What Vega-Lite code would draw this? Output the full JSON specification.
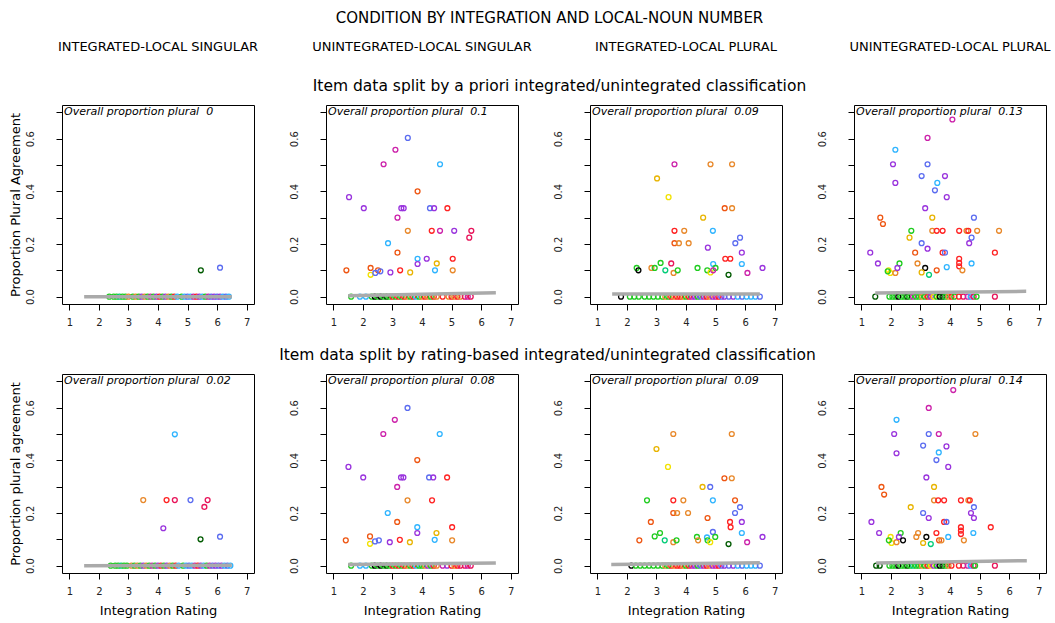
{
"$schema":"https://vega.github.io/schema/vega-lite/v6.json",
"padding":{"left":8,"top":11,"right":0,"bottom":0},
"background":"white",
"config":{"font":"DejaVu Sans","view":{"stroke":"#000","strokeWidth":1},
"axis":{"domain":false,"grid":false,"tickSize":6,"tickColor":"#000","labelFontSize":10,"labelColor":"#222","titleFontWeight":"normal","titleFontSize":13,"titleColor":"#000"},
"range":{"category":["#1fcc1f","#00cc77","#005a00","#000000","#ff2222","#e8145a","#ee5511","#e8882a","#e8b400","#f2e200","#cc22aa","#9933dd","#5b6cf0","#2fb4ff"]},
"title":{"fontWeight":"normal","color":"#000","font":"DejaVu Sans"}},
"title":{"text":"CONDITION BY INTEGRATION AND LOCAL-NOUN NUMBER","fontSize":15,"anchor":"middle","offset":9,"dx":20},
"datasets":{
"hdr":[{"k":1,"label":"INTEGRATED-LOCAL SINGULAR"},{"k":2,"label":"UNINTEGRATED-LOCAL SINGULAR"},{"k":3,"label":"INTEGRATED-LOCAL PLURAL"},{"k":4,"label":"UNINTEGRATED-LOCAL PLURAL"}],
"lab":[{"r":"A","k":1,"label":"Overall proportion plural\u00a0 0"},{"r":"A","k":2,"label":"Overall proportion plural\u00a0 0.1"},{"r":"A","k":3,"label":"Overall proportion plural\u00a0 0.09"},{"r":"A","k":4,"label":"Overall proportion plural\u00a0 0.13"},{"r":"B","k":1,"label":"Overall proportion plural\u00a0 0.02"},{"r":"B","k":2,"label":"Overall proportion plural\u00a0 0.08"},{"r":"B","k":3,"label":"Overall proportion plural\u00a0 0.09"},{"r":"B","k":4,"label":"Overall proportion plural\u00a0 0.14"}],
"fit":[{"r":"A","k":1,"x":1.5,"y":0},{"r":"A","k":1,"x":6.5,"y":0},{"r":"A","k":2,"x":1.5,"y":0.003},{"r":"A","k":2,"x":6.5,"y":0.015},{"r":"A","k":3,"x":1.5,"y":0.01},{"r":"A","k":3,"x":6.5,"y":0.01},{"r":"A","k":4,"x":1.47,"y":0.014},{"r":"A","k":4,"x":6.58,"y":0.02},{"r":"B","k":1,"x":1.5,"y":0},{"r":"B","k":1,"x":6.5,"y":0.001},{"r":"B","k":2,"x":1.5,"y":0.004},{"r":"B","k":2,"x":6.5,"y":0.01},{"r":"B","k":3,"x":1.47,"y":0.004},{"r":"B","k":3,"x":6.5,"y":0.011},{"r":"B","k":4,"x":1.5,"y":0.01},{"r":"B","k":4,"x":6.6,"y":0.019}],
"pts":[
{"r":"A","k":1,"x":5.45,"y":0.1,"c":"darkgreen"},{"r":"A","k":1,"x":6.1,"y":0.11,"c":"blue"},
{"r":"A","k":1,"x":2.35,"y":0,"c":"green"},{"r":"A","k":1,"x":2.5,"y":0,"c":"green"},{"r":"A","k":1,"x":2.6,"y":0,"c":"green"},{"r":"A","k":1,"x":2.7,"y":0,"c":"teal"},{"r":"A","k":1,"x":2.8,"y":0,"c":"green"},{"r":"A","k":1,"x":2.9,"y":0,"c":"green"},{"r":"A","k":1,"x":3.0,"y":0,"c":"orange"},{"r":"A","k":1,"x":3.15,"y":0,"c":"green"},{"r":"A","k":1,"x":3.25,"y":0,"c":"orange"},{"r":"A","k":1,"x":3.35,"y":0,"c":"green"},{"r":"A","k":1,"x":3.45,"y":0,"c":"purple"},{"r":"A","k":1,"x":3.55,"y":0,"c":"orange"},{"r":"A","k":1,"x":3.65,"y":0,"c":"green"},{"r":"A","k":1,"x":3.75,"y":0,"c":"magenta"},{"r":"A","k":1,"x":3.85,"y":0,"c":"green"},{"r":"A","k":1,"x":3.95,"y":0,"c":"purple"},{"r":"A","k":1,"x":4.05,"y":0,"c":"red"},{"r":"A","k":1,"x":4.15,"y":0,"c":"green"},{"r":"A","k":1,"x":4.25,"y":0,"c":"purple"},{"r":"A","k":1,"x":4.35,"y":0,"c":"orange"},{"r":"A","k":1,"x":4.45,"y":0,"c":"green"},{"r":"A","k":1,"x":4.55,"y":0,"c":"red"},{"r":"A","k":1,"x":4.65,"y":0,"c":"cyan"},{"r":"A","k":1,"x":4.8,"y":0,"c":"green"},{"r":"A","k":1,"x":4.9,"y":0,"c":"cyan"},{"r":"A","k":1,"x":5.0,"y":0,"c":"blue"},{"r":"A","k":1,"x":5.1,"y":0,"c":"cyan"},{"r":"A","k":1,"x":5.2,"y":0,"c":"magenta"},{"r":"A","k":1,"x":5.3,"y":0,"c":"red"},{"r":"A","k":1,"x":5.4,"y":0,"c":"purple"},{"r":"A","k":1,"x":5.5,"y":0,"c":"cyan"},{"r":"A","k":1,"x":5.6,"y":0,"c":"green"},{"r":"A","k":1,"x":5.7,"y":0,"c":"magenta"},{"r":"A","k":1,"x":5.8,"y":0,"c":"blue"},{"r":"A","k":1,"x":5.9,"y":0,"c":"purple"},{"r":"A","k":1,"x":6.0,"y":0,"c":"blue"},{"r":"A","k":1,"x":6.1,"y":0,"c":"purple"},{"r":"A","k":1,"x":6.2,"y":0,"c":"cyan"},{"r":"A","k":1,"x":6.3,"y":0,"c":"blue"},{"r":"A","k":1,"x":6.4,"y":0,"c":"cyan"},
{"r":"A","k":2,"x":1.53,"y":0.378,"c":"purple"},{"r":"A","k":2,"x":2.03,"y":0.336,"c":"purple"},{"r":"A","k":2,"x":2.7,"y":0.503,"c":"magenta"},{"r":"A","k":2,"x":3.1,"y":0.558,"c":"magenta"},{"r":"A","k":2,"x":3.52,"y":0.603,"c":"blue"},{"r":"A","k":2,"x":4.61,"y":0.503,"c":"cyan"},{"r":"A","k":2,"x":3.85,"y":0.4,"c":"orangered"},{"r":"A","k":2,"x":3.3,"y":0.336,"c":"purple"},{"r":"A","k":2,"x":3.38,"y":0.336,"c":"purple"},{"r":"A","k":2,"x":4.27,"y":0.336,"c":"blue"},{"r":"A","k":2,"x":4.41,"y":0.336,"c":"purple"},{"r":"A","k":2,"x":4.86,"y":0.336,"c":"red"},{"r":"A","k":2,"x":3.17,"y":0.3,"c":"magenta"},{"r":"A","k":2,"x":3.52,"y":0.25,"c":"orange"},{"r":"A","k":2,"x":4.33,"y":0.25,"c":"red"},{"r":"A","k":2,"x":4.61,"y":0.25,"c":"magenta"},{"r":"A","k":2,"x":5.09,"y":0.25,"c":"purple"},{"r":"A","k":2,"x":5.67,"y":0.25,"c":"crimson"},{"r":"A","k":2,"x":5.6,"y":0.224,"c":"crimson"},{"r":"A","k":2,"x":2.85,"y":0.203,"c":"cyan"},{"r":"A","k":2,"x":3.17,"y":0.167,"c":"orangered"},{"r":"A","k":2,"x":3.85,"y":0.144,"c":"cyan"},{"r":"A","k":2,"x":4.16,"y":0.144,"c":"purple"},{"r":"A","k":2,"x":3.85,"y":0.124,"c":"purple"},{"r":"A","k":2,"x":4.5,"y":0.126,"c":"gold"},{"r":"A","k":2,"x":5.04,"y":0.144,"c":"red"},{"r":"A","k":2,"x":1.44,"y":0.1,"c":"orangered"},{"r":"A","k":2,"x":2.26,"y":0.109,"c":"orangered"},{"r":"A","k":2,"x":2.51,"y":0.1,"c":"orangered"},{"r":"A","k":2,"x":2.26,"y":0.083,"c":"yellow"},{"r":"A","k":2,"x":2.42,"y":0.09,"c":"blue"},{"r":"A","k":2,"x":2.59,"y":0.096,"c":"blue"},{"r":"A","k":2,"x":2.93,"y":0.092,"c":"purple"},{"r":"A","k":2,"x":3.26,"y":0.1,"c":"red"},{"r":"A","k":2,"x":3.6,"y":0.092,"c":"gold"},{"r":"A","k":2,"x":4.44,"y":0.1,"c":"cyan"},{"r":"A","k":2,"x":5.04,"y":0.1,"c":"orange"},
{"r":"A","k":2,"x":1.6,"y":0,"c":"green"},{"r":"A","k":2,"x":1.9,"y":0,"c":"cyan"},{"r":"A","k":2,"x":2.1,"y":0,"c":"cyan"},{"r":"A","k":2,"x":2.3,"y":0,"c":"green"},{"r":"A","k":2,"x":2.4,"y":0,"c":"black"},{"r":"A","k":2,"x":2.5,"y":0,"c":"green"},{"r":"A","k":2,"x":2.6,"y":0,"c":"black"},{"r":"A","k":2,"x":2.7,"y":0,"c":"green"},{"r":"A","k":2,"x":2.8,"y":0,"c":"darkgreen"},{"r":"A","k":2,"x":2.9,"y":0,"c":"green"},{"r":"A","k":2,"x":3.0,"y":0,"c":"red"},{"r":"A","k":2,"x":3.1,"y":0,"c":"green"},{"r":"A","k":2,"x":3.2,"y":0,"c":"red"},{"r":"A","k":2,"x":3.3,"y":0,"c":"green"},{"r":"A","k":2,"x":3.4,"y":0,"c":"red"},{"r":"A","k":2,"x":3.5,"y":0,"c":"orange"},{"r":"A","k":2,"x":3.6,"y":0,"c":"green"},{"r":"A","k":2,"x":3.7,"y":0,"c":"red"},{"r":"A","k":2,"x":3.8,"y":0,"c":"cyan"},{"r":"A","k":2,"x":3.9,"y":0,"c":"green"},{"r":"A","k":2,"x":4.0,"y":0,"c":"orange"},{"r":"A","k":2,"x":4.1,"y":0,"c":"red"},{"r":"A","k":2,"x":4.2,"y":0,"c":"orange"},{"r":"A","k":2,"x":4.3,"y":0,"c":"green"},{"r":"A","k":2,"x":4.4,"y":0,"c":"red"},{"r":"A","k":2,"x":4.5,"y":0,"c":"orange"},{"r":"A","k":2,"x":4.7,"y":0,"c":"red"},{"r":"A","k":2,"x":4.9,"y":0,"c":"orange"},{"r":"A","k":2,"x":5.0,"y":0,"c":"red"},{"r":"A","k":2,"x":5.1,"y":0,"c":"orange"},{"r":"A","k":2,"x":5.2,"y":0,"c":"red"},{"r":"A","k":2,"x":5.3,"y":0,"c":"orange"},{"r":"A","k":2,"x":5.45,"y":0,"c":"crimson"},{"r":"A","k":2,"x":5.55,"y":0,"c":"magenta"},{"r":"A","k":2,"x":5.65,"y":0,"c":"crimson"},
{"r":"A","k":3,"x":3.61,"y":0.503,"c":"magenta"},{"r":"A","k":3,"x":4.83,"y":0.503,"c":"orange"},{"r":"A","k":3,"x":5.56,"y":0.503,"c":"orange"},{"r":"A","k":3,"x":3.02,"y":0.449,"c":"gold"},{"r":"A","k":3,"x":3.41,"y":0.378,"c":"yellow"},{"r":"A","k":3,"x":5.31,"y":0.336,"c":"orangered"},{"r":"A","k":3,"x":5.56,"y":0.336,"c":"orange"},{"r":"A","k":3,"x":4.58,"y":0.3,"c":"gold"},{"r":"A","k":3,"x":3.61,"y":0.25,"c":"red"},{"r":"A","k":3,"x":3.94,"y":0.25,"c":"orange"},{"r":"A","k":3,"x":4.91,"y":0.25,"c":"cyan"},{"r":"A","k":3,"x":3.61,"y":0.203,"c":"orangered"},{"r":"A","k":3,"x":3.76,"y":0.203,"c":"orange"},{"r":"A","k":3,"x":4.09,"y":0.203,"c":"orange"},{"r":"A","k":3,"x":5.83,"y":0.224,"c":"blue"},{"r":"A","k":3,"x":5.67,"y":0.203,"c":"blue"},{"r":"A","k":3,"x":4.74,"y":0.186,"c":"purple"},{"r":"A","k":3,"x":5.89,"y":0.167,"c":"purple"},{"r":"A","k":3,"x":5.33,"y":0.144,"c":"red"},{"r":"A","k":3,"x":5.5,"y":0.144,"c":"red"},{"r":"A","k":3,"x":5.89,"y":0.124,"c":"cyan"},{"r":"A","k":3,"x":4.92,"y":0.124,"c":"cyan"},{"r":"A","k":3,"x":3.5,"y":0.126,"c":"crimson"},{"r":"A","k":3,"x":3.14,"y":0.128,"c":"green"},{"r":"A","k":3,"x":2.33,"y":0.109,"c":"green"},{"r":"A","k":3,"x":2.39,"y":0.1,"c":"black"},{"r":"A","k":3,"x":2.83,"y":0.109,"c":"orange"},{"r":"A","k":3,"x":2.94,"y":0.109,"c":"green"},{"r":"A","k":3,"x":3.3,"y":0.1,"c":"teal"},{"r":"A","k":3,"x":3.58,"y":0.09,"c":"orange"},{"r":"A","k":3,"x":3.72,"y":0.1,"c":"green"},{"r":"A","k":3,"x":4.39,"y":0.109,"c":"green"},{"r":"A","k":3,"x":4.72,"y":0.1,"c":"green"},{"r":"A","k":3,"x":4.83,"y":0.092,"c":"yellow"},{"r":"A","k":3,"x":5.0,"y":0.109,"c":"green"},{"r":"A","k":3,"x":4.92,"y":0.1,"c":"magenta"},{"r":"A","k":3,"x":5.44,"y":0.083,"c":"darkgreen"},{"r":"A","k":3,"x":6.08,"y":0.09,"c":"magenta"},{"r":"A","k":3,"x":6.59,"y":0.109,"c":"purple"},
{"r":"A","k":3,"x":1.8,"y":0,"c":"black"},{"r":"A","k":3,"x":2.1,"y":0,"c":"green"},{"r":"A","k":3,"x":2.25,"y":0,"c":"green"},{"r":"A","k":3,"x":2.4,"y":0,"c":"green"},{"r":"A","k":3,"x":2.6,"y":0,"c":"green"},{"r":"A","k":3,"x":2.75,"y":0,"c":"green"},{"r":"A","k":3,"x":2.9,"y":0,"c":"green"},{"r":"A","k":3,"x":3.05,"y":0,"c":"green"},{"r":"A","k":3,"x":3.2,"y":0,"c":"green"},{"r":"A","k":3,"x":3.3,"y":0,"c":"orange"},{"r":"A","k":3,"x":3.4,"y":0,"c":"green"},{"r":"A","k":3,"x":3.5,"y":0,"c":"red"},{"r":"A","k":3,"x":3.6,"y":0,"c":"orange"},{"r":"A","k":3,"x":3.7,"y":0,"c":"red"},{"r":"A","k":3,"x":3.8,"y":0,"c":"red"},{"r":"A","k":3,"x":3.9,"y":0,"c":"orange"},{"r":"A","k":3,"x":4.0,"y":0,"c":"green"},{"r":"A","k":3,"x":4.1,"y":0,"c":"red"},{"r":"A","k":3,"x":4.2,"y":0,"c":"magenta"},{"r":"A","k":3,"x":4.3,"y":0,"c":"purple"},{"r":"A","k":3,"x":4.4,"y":0,"c":"green"},{"r":"A","k":3,"x":4.5,"y":0,"c":"blue"},{"r":"A","k":3,"x":4.6,"y":0,"c":"magenta"},{"r":"A","k":3,"x":4.7,"y":0,"c":"red"},{"r":"A","k":3,"x":4.8,"y":0,"c":"orange"},{"r":"A","k":3,"x":4.9,"y":0,"c":"purple"},{"r":"A","k":3,"x":5.0,"y":0,"c":"magenta"},{"r":"A","k":3,"x":5.1,"y":0,"c":"red"},{"r":"A","k":3,"x":5.2,"y":0,"c":"blue"},{"r":"A","k":3,"x":5.3,"y":0,"c":"purple"},{"r":"A","k":3,"x":5.45,"y":0,"c":"blue"},{"r":"A","k":3,"x":5.6,"y":0,"c":"purple"},{"r":"A","k":3,"x":5.75,"y":0,"c":"cyan"},{"r":"A","k":3,"x":5.9,"y":0,"c":"blue"},{"r":"A","k":3,"x":6.05,"y":0,"c":"cyan"},{"r":"A","k":3,"x":6.2,"y":0,"c":"cyan"},{"r":"A","k":3,"x":6.35,"y":0,"c":"cyan"},{"r":"A","k":3,"x":6.5,"y":0,"c":"blue"},
{"r":"A","k":4,"x":4.08,"y":0.673,"c":"magenta"},{"r":"A","k":4,"x":3.24,"y":0.603,"c":"magenta"},{"r":"A","k":4,"x":2.15,"y":0.558,"c":"cyan"},{"r":"A","k":4,"x":2.07,"y":0.503,"c":"purple"},{"r":"A","k":4,"x":3.24,"y":0.503,"c":"blue"},{"r":"A","k":4,"x":3.04,"y":0.458,"c":"blue"},{"r":"A","k":4,"x":3.83,"y":0.458,"c":"purple"},{"r":"A","k":4,"x":2.15,"y":0.432,"c":"purple"},{"r":"A","k":4,"x":3.57,"y":0.432,"c":"cyan"},{"r":"A","k":4,"x":3.49,"y":0.404,"c":"blue"},{"r":"A","k":4,"x":3.89,"y":0.378,"c":"purple"},{"r":"A","k":4,"x":3.16,"y":0.336,"c":"purple"},{"r":"A","k":4,"x":1.64,"y":0.3,"c":"orangered"},{"r":"A","k":4,"x":1.73,"y":0.276,"c":"orangered"},{"r":"A","k":4,"x":3.4,"y":0.3,"c":"gold"},{"r":"A","k":4,"x":4.81,"y":0.3,"c":"blue"},{"r":"A","k":4,"x":2.69,"y":0.25,"c":"green"},{"r":"A","k":4,"x":3.4,"y":0.25,"c":"orange"},{"r":"A","k":4,"x":3.55,"y":0.25,"c":"red"},{"r":"A","k":4,"x":3.75,"y":0.25,"c":"red"},{"r":"A","k":4,"x":4.31,"y":0.25,"c":"red"},{"r":"A","k":4,"x":4.56,"y":0.25,"c":"orange"},{"r":"A","k":4,"x":4.62,"y":0.25,"c":"red"},{"r":"A","k":4,"x":4.92,"y":0.25,"c":"orange"},{"r":"A","k":4,"x":5.66,"y":0.25,"c":"orange"},{"r":"A","k":4,"x":2.63,"y":0.224,"c":"gold"},{"r":"A","k":4,"x":4.73,"y":0.224,"c":"blue"},{"r":"A","k":4,"x":4.65,"y":0.203,"c":"purple"},{"r":"A","k":4,"x":3.04,"y":0.203,"c":"blue"},{"r":"A","k":4,"x":3.24,"y":0.182,"c":"purple"},{"r":"A","k":4,"x":1.3,"y":0.167,"c":"purple"},{"r":"A","k":4,"x":2.82,"y":0.167,"c":"orangered"},{"r":"A","k":4,"x":3.75,"y":0.167,"c":"red"},{"r":"A","k":4,"x":3.83,"y":0.167,"c":"blue"},{"r":"A","k":4,"x":5.52,"y":0.167,"c":"red"},{"r":"A","k":4,"x":1.56,"y":0.126,"c":"purple"},{"r":"A","k":4,"x":2.29,"y":0.126,"c":"green"},{"r":"A","k":4,"x":2.9,"y":0.126,"c":"orange"},{"r":"A","k":4,"x":4.31,"y":0.144,"c":"red"},{"r":"A","k":4,"x":4.31,"y":0.128,"c":"red"},{"r":"A","k":4,"x":4.31,"y":0.115,"c":"red"},{"r":"A","k":4,"x":4.73,"y":0.126,"c":"cyan"},{"r":"A","k":4,"x":3.16,"y":0.109,"c":"black"},{"r":"A","k":4,"x":3.55,"y":0.1,"c":"orangered"},{"r":"A","k":4,"x":3.89,"y":0.112,"c":"cyan"},{"r":"A","k":4,"x":4.42,"y":0.1,"c":"orange"},{"r":"A","k":4,"x":1.92,"y":0.1,"c":"yellow"},{"r":"A","k":4,"x":1.98,"y":0.09,"c":"yellow"},{"r":"A","k":4,"x":2.15,"y":0.09,"c":"orange"},{"r":"A","k":4,"x":2.22,"y":0.109,"c":"purple"},{"r":"A","k":4,"x":3.04,"y":0.092,"c":"gold"},{"r":"A","k":4,"x":3.29,"y":0.083,"c":"teal"},{"r":"A","k":4,"x":1.89,"y":0.096,"c":"green"},
{"r":"A","k":4,"x":1.47,"y":0,"c":"darkgreen"},{"r":"A","k":4,"x":1.95,"y":0,"c":"green"},{"r":"A","k":4,"x":2.05,"y":0,"c":"green"},{"r":"A","k":4,"x":2.15,"y":0,"c":"green"},{"r":"A","k":4,"x":2.25,"y":0,"c":"black"},{"r":"A","k":4,"x":2.35,"y":0,"c":"green"},{"r":"A","k":4,"x":2.45,"y":0,"c":"green"},{"r":"A","k":4,"x":2.55,"y":0,"c":"darkgreen"},{"r":"A","k":4,"x":2.65,"y":0,"c":"green"},{"r":"A","k":4,"x":2.75,"y":0,"c":"magenta"},{"r":"A","k":4,"x":2.85,"y":0,"c":"green"},{"r":"A","k":4,"x":2.95,"y":0,"c":"green"},{"r":"A","k":4,"x":3.05,"y":0,"c":"orange"},{"r":"A","k":4,"x":3.15,"y":0,"c":"green"},{"r":"A","k":4,"x":3.25,"y":0,"c":"red"},{"r":"A","k":4,"x":3.35,"y":0,"c":"purple"},{"r":"A","k":4,"x":3.45,"y":0,"c":"yellow"},{"r":"A","k":4,"x":3.55,"y":0,"c":"green"},{"r":"A","k":4,"x":3.65,"y":0,"c":"black"},{"r":"A","k":4,"x":3.75,"y":0,"c":"darkgreen"},{"r":"A","k":4,"x":3.85,"y":0,"c":"green"},{"r":"A","k":4,"x":3.95,"y":0,"c":"orange"},{"r":"A","k":4,"x":4.05,"y":0,"c":"red"},{"r":"A","k":4,"x":4.15,"y":0,"c":"green"},{"r":"A","k":4,"x":4.3,"y":0,"c":"red"},{"r":"A","k":4,"x":4.45,"y":0,"c":"crimson"},{"r":"A","k":4,"x":4.6,"y":0,"c":"magenta"},{"r":"A","k":4,"x":4.7,"y":0,"c":"cyan"},{"r":"A","k":4,"x":4.8,"y":0,"c":"crimson"},{"r":"A","k":4,"x":4.9,"y":0,"c":"green"},{"r":"A","k":4,"x":5.52,"y":0,"c":"crimson"},
{"r":"B","k":1,"x":4.57,"y":0.499,"c":"cyan"},{"r":"B","k":1,"x":3.5,"y":0.249,"c":"orange"},{"r":"B","k":1,"x":4.29,"y":0.249,"c":"red"},{"r":"B","k":1,"x":4.57,"y":0.249,"c":"crimson"},{"r":"B","k":1,"x":5.1,"y":0.249,"c":"blue"},{"r":"B","k":1,"x":5.68,"y":0.249,"c":"crimson"},{"r":"B","k":1,"x":5.57,"y":0.223,"c":"crimson"},{"r":"B","k":1,"x":4.18,"y":0.142,"c":"purple"},{"r":"B","k":1,"x":5.44,"y":0.1,"c":"darkgreen"},{"r":"B","k":1,"x":6.1,"y":0.11,"c":"blue"},
{"r":"B","k":1,"x":2.4,"y":0,"c":"green"},{"r":"B","k":1,"x":2.55,"y":0,"c":"green"},{"r":"B","k":1,"x":2.65,"y":0,"c":"green"},{"r":"B","k":1,"x":2.75,"y":0,"c":"teal"},{"r":"B","k":1,"x":2.85,"y":0,"c":"green"},{"r":"B","k":1,"x":2.95,"y":0,"c":"green"},{"r":"B","k":1,"x":3.1,"y":0,"c":"orange"},{"r":"B","k":1,"x":3.2,"y":0,"c":"green"},{"r":"B","k":1,"x":3.3,"y":0,"c":"orange"},{"r":"B","k":1,"x":3.4,"y":0,"c":"green"},{"r":"B","k":1,"x":3.5,"y":0,"c":"purple"},{"r":"B","k":1,"x":3.6,"y":0,"c":"orange"},{"r":"B","k":1,"x":3.7,"y":0,"c":"green"},{"r":"B","k":1,"x":3.8,"y":0,"c":"magenta"},{"r":"B","k":1,"x":3.9,"y":0,"c":"green"},{"r":"B","k":1,"x":4.0,"y":0,"c":"purple"},{"r":"B","k":1,"x":4.1,"y":0,"c":"red"},{"r":"B","k":1,"x":4.2,"y":0,"c":"green"},{"r":"B","k":1,"x":4.3,"y":0,"c":"purple"},{"r":"B","k":1,"x":4.4,"y":0,"c":"orange"},{"r":"B","k":1,"x":4.5,"y":0,"c":"green"},{"r":"B","k":1,"x":4.6,"y":0,"c":"red"},{"r":"B","k":1,"x":4.7,"y":0,"c":"cyan"},{"r":"B","k":1,"x":4.85,"y":0,"c":"green"},{"r":"B","k":1,"x":4.95,"y":0,"c":"cyan"},{"r":"B","k":1,"x":5.05,"y":0,"c":"blue"},{"r":"B","k":1,"x":5.15,"y":0,"c":"cyan"},{"r":"B","k":1,"x":5.25,"y":0,"c":"magenta"},{"r":"B","k":1,"x":5.35,"y":0,"c":"red"},{"r":"B","k":1,"x":5.45,"y":0,"c":"purple"},{"r":"B","k":1,"x":5.55,"y":0,"c":"cyan"},{"r":"B","k":1,"x":5.65,"y":0,"c":"green"},{"r":"B","k":1,"x":5.75,"y":0,"c":"magenta"},{"r":"B","k":1,"x":5.85,"y":0,"c":"blue"},{"r":"B","k":1,"x":5.95,"y":0,"c":"purple"},{"r":"B","k":1,"x":6.05,"y":0,"c":"blue"},{"r":"B","k":1,"x":6.15,"y":0,"c":"purple"},{"r":"B","k":1,"x":6.25,"y":0,"c":"cyan"},{"r":"B","k":1,"x":6.35,"y":0,"c":"blue"},{"r":"B","k":1,"x":6.45,"y":0,"c":"cyan"},
{"r":"B","k":2,"x":3.51,"y":0.599,"c":"blue"},{"r":"B","k":2,"x":3.08,"y":0.554,"c":"magenta"},{"r":"B","k":2,"x":2.69,"y":0.5,"c":"magenta"},{"r":"B","k":2,"x":4.6,"y":0.5,"c":"cyan"},{"r":"B","k":2,"x":3.84,"y":0.401,"c":"orangered"},{"r":"B","k":2,"x":1.51,"y":0.375,"c":"purple"},{"r":"B","k":2,"x":2.01,"y":0.335,"c":"purple"},{"r":"B","k":2,"x":3.29,"y":0.335,"c":"purple"},{"r":"B","k":2,"x":3.37,"y":0.335,"c":"purple"},{"r":"B","k":2,"x":4.24,"y":0.335,"c":"blue"},{"r":"B","k":2,"x":4.38,"y":0.335,"c":"purple"},{"r":"B","k":2,"x":4.85,"y":0.335,"c":"red"},{"r":"B","k":2,"x":3.16,"y":0.299,"c":"magenta"},{"r":"B","k":2,"x":3.51,"y":0.248,"c":"orange"},{"r":"B","k":2,"x":4.34,"y":0.248,"c":"red"},{"r":"B","k":2,"x":2.84,"y":0.2,"c":"cyan"},{"r":"B","k":2,"x":3.16,"y":0.166,"c":"orangered"},{"r":"B","k":2,"x":3.84,"y":0.146,"c":"cyan"},{"r":"B","k":2,"x":3.84,"y":0.124,"c":"purple"},{"r":"B","k":2,"x":4.49,"y":0.124,"c":"gold"},{"r":"B","k":2,"x":5.02,"y":0.146,"c":"red"},{"r":"B","k":2,"x":1.42,"y":0.096,"c":"orangered"},{"r":"B","k":2,"x":2.24,"y":0.111,"c":"orangered"},{"r":"B","k":2,"x":2.24,"y":0.083,"c":"yellow"},{"r":"B","k":2,"x":2.41,"y":0.092,"c":"blue"},{"r":"B","k":2,"x":2.54,"y":0.096,"c":"blue"},{"r":"B","k":2,"x":2.91,"y":0.089,"c":"purple"},{"r":"B","k":2,"x":3.25,"y":0.098,"c":"red"},{"r":"B","k":2,"x":3.59,"y":0.089,"c":"gold"},{"r":"B","k":2,"x":4.43,"y":0.098,"c":"cyan"},{"r":"B","k":2,"x":5.02,"y":0.096,"c":"orange"},
{"r":"B","k":2,"x":1.6,"y":0,"c":"green"},{"r":"B","k":2,"x":1.9,"y":0,"c":"cyan"},{"r":"B","k":2,"x":2.1,"y":0,"c":"cyan"},{"r":"B","k":2,"x":2.3,"y":0,"c":"green"},{"r":"B","k":2,"x":2.4,"y":0,"c":"black"},{"r":"B","k":2,"x":2.5,"y":0,"c":"green"},{"r":"B","k":2,"x":2.6,"y":0,"c":"black"},{"r":"B","k":2,"x":2.7,"y":0,"c":"green"},{"r":"B","k":2,"x":2.8,"y":0,"c":"darkgreen"},{"r":"B","k":2,"x":2.9,"y":0,"c":"green"},{"r":"B","k":2,"x":3.0,"y":0,"c":"red"},{"r":"B","k":2,"x":3.1,"y":0,"c":"green"},{"r":"B","k":2,"x":3.2,"y":0,"c":"red"},{"r":"B","k":2,"x":3.3,"y":0,"c":"green"},{"r":"B","k":2,"x":3.4,"y":0,"c":"red"},{"r":"B","k":2,"x":3.5,"y":0,"c":"orange"},{"r":"B","k":2,"x":3.6,"y":0,"c":"green"},{"r":"B","k":2,"x":3.7,"y":0,"c":"red"},{"r":"B","k":2,"x":3.8,"y":0,"c":"cyan"},{"r":"B","k":2,"x":3.9,"y":0,"c":"green"},{"r":"B","k":2,"x":4.0,"y":0,"c":"green"},{"r":"B","k":2,"x":4.1,"y":0,"c":"orange"},{"r":"B","k":2,"x":4.2,"y":0,"c":"purple"},{"r":"B","k":2,"x":4.3,"y":0,"c":"green"},{"r":"B","k":2,"x":4.4,"y":0,"c":"red"},{"r":"B","k":2,"x":4.5,"y":0,"c":"orange"},{"r":"B","k":2,"x":4.7,"y":0,"c":"magenta"},{"r":"B","k":2,"x":4.85,"y":0,"c":"purple"},{"r":"B","k":2,"x":5.0,"y":0,"c":"red"},{"r":"B","k":2,"x":5.1,"y":0,"c":"orange"},{"r":"B","k":2,"x":5.2,"y":0,"c":"red"},{"r":"B","k":2,"x":5.3,"y":0,"c":"crimson"},{"r":"B","k":2,"x":5.45,"y":0,"c":"crimson"},{"r":"B","k":2,"x":5.55,"y":0,"c":"magenta"},{"r":"B","k":2,"x":5.65,"y":0,"c":"crimson"},
{"r":"B","k":3,"x":3.57,"y":0.5,"c":"orange"},{"r":"B","k":3,"x":5.55,"y":0.5,"c":"orange"},{"r":"B","k":3,"x":3.0,"y":0.443,"c":"gold"},{"r":"B","k":3,"x":3.39,"y":0.375,"c":"yellow"},{"r":"B","k":3,"x":5.3,"y":0.332,"c":"orangered"},{"r":"B","k":3,"x":5.55,"y":0.332,"c":"orange"},{"r":"B","k":3,"x":4.56,"y":0.299,"c":"gold"},{"r":"B","k":3,"x":4.82,"y":0.299,"c":"blue"},{"r":"B","k":3,"x":2.68,"y":0.248,"c":"green"},{"r":"B","k":3,"x":3.57,"y":0.248,"c":"red"},{"r":"B","k":3,"x":3.91,"y":0.248,"c":"orange"},{"r":"B","k":3,"x":4.91,"y":0.248,"c":"cyan"},{"r":"B","k":3,"x":5.66,"y":0.248,"c":"orangered"},{"r":"B","k":3,"x":3.57,"y":0.2,"c":"orangered"},{"r":"B","k":3,"x":3.7,"y":0.2,"c":"orange"},{"r":"B","k":3,"x":4.07,"y":0.2,"c":"orange"},{"r":"B","k":3,"x":5.83,"y":0.222,"c":"blue"},{"r":"B","k":3,"x":5.66,"y":0.2,"c":"blue"},{"r":"B","k":3,"x":4.73,"y":0.181,"c":"orangered"},{"r":"B","k":3,"x":2.81,"y":0.166,"c":"orangered"},{"r":"B","k":3,"x":5.89,"y":0.166,"c":"purple"},{"r":"B","k":3,"x":5.49,"y":0.166,"c":"red"},{"r":"B","k":3,"x":5.51,"y":0.146,"c":"red"},{"r":"B","k":3,"x":4.91,"y":0.128,"c":"blue"},{"r":"B","k":3,"x":5.89,"y":0.124,"c":"cyan"},{"r":"B","k":3,"x":3.12,"y":0.124,"c":"green"},{"r":"B","k":3,"x":2.94,"y":0.111,"c":"green"},{"r":"B","k":3,"x":2.42,"y":0.096,"c":"orangered"},{"r":"B","k":3,"x":3.28,"y":0.096,"c":"teal"},{"r":"B","k":3,"x":3.57,"y":0.089,"c":"orange"},{"r":"B","k":3,"x":3.68,"y":0.096,"c":"green"},{"r":"B","k":3,"x":4.37,"y":0.109,"c":"green"},{"r":"B","k":3,"x":4.41,"y":0.096,"c":"orange"},{"r":"B","k":3,"x":4.71,"y":0.107,"c":"cyan"},{"r":"B","k":3,"x":4.73,"y":0.096,"c":"green"},{"r":"B","k":3,"x":4.82,"y":0.089,"c":"yellow"},{"r":"B","k":3,"x":4.99,"y":0.109,"c":"green"},{"r":"B","k":3,"x":5.44,"y":0.082,"c":"darkgreen"},{"r":"B","k":3,"x":6.07,"y":0.089,"c":"magenta"},{"r":"B","k":3,"x":6.59,"y":0.109,"c":"purple"},
{"r":"B","k":3,"x":2.15,"y":0,"c":"black"},{"r":"B","k":3,"x":2.3,"y":0,"c":"green"},{"r":"B","k":3,"x":2.45,"y":0,"c":"green"},{"r":"B","k":3,"x":2.6,"y":0,"c":"green"},{"r":"B","k":3,"x":2.75,"y":0,"c":"green"},{"r":"B","k":3,"x":2.9,"y":0,"c":"green"},{"r":"B","k":3,"x":3.05,"y":0,"c":"green"},{"r":"B","k":3,"x":3.2,"y":0,"c":"green"},{"r":"B","k":3,"x":3.3,"y":0,"c":"orange"},{"r":"B","k":3,"x":3.4,"y":0,"c":"green"},{"r":"B","k":3,"x":3.5,"y":0,"c":"red"},{"r":"B","k":3,"x":3.6,"y":0,"c":"orange"},{"r":"B","k":3,"x":3.7,"y":0,"c":"red"},{"r":"B","k":3,"x":3.8,"y":0,"c":"red"},{"r":"B","k":3,"x":3.9,"y":0,"c":"orange"},{"r":"B","k":3,"x":4.0,"y":0,"c":"green"},{"r":"B","k":3,"x":4.1,"y":0,"c":"red"},{"r":"B","k":3,"x":4.2,"y":0,"c":"magenta"},{"r":"B","k":3,"x":4.3,"y":0,"c":"purple"},{"r":"B","k":3,"x":4.4,"y":0,"c":"green"},{"r":"B","k":3,"x":4.5,"y":0,"c":"blue"},{"r":"B","k":3,"x":4.6,"y":0,"c":"magenta"},{"r":"B","k":3,"x":4.7,"y":0,"c":"red"},{"r":"B","k":3,"x":4.8,"y":0,"c":"orange"},{"r":"B","k":3,"x":4.9,"y":0,"c":"purple"},{"r":"B","k":3,"x":5.0,"y":0,"c":"magenta"},{"r":"B","k":3,"x":5.1,"y":0,"c":"red"},{"r":"B","k":3,"x":5.2,"y":0,"c":"blue"},{"r":"B","k":3,"x":5.3,"y":0,"c":"purple"},{"r":"B","k":3,"x":5.45,"y":0,"c":"blue"},{"r":"B","k":3,"x":5.6,"y":0,"c":"purple"},{"r":"B","k":3,"x":5.75,"y":0,"c":"cyan"},{"r":"B","k":3,"x":5.9,"y":0,"c":"blue"},{"r":"B","k":3,"x":6.05,"y":0,"c":"cyan"},{"r":"B","k":3,"x":6.2,"y":0,"c":"cyan"},{"r":"B","k":3,"x":6.35,"y":0,"c":"cyan"},{"r":"B","k":3,"x":6.5,"y":0,"c":"blue"},
{"r":"B","k":4,"x":4.11,"y":0.667,"c":"magenta"},{"r":"B","k":4,"x":3.28,"y":0.599,"c":"magenta"},{"r":"B","k":4,"x":2.19,"y":0.554,"c":"cyan"},{"r":"B","k":4,"x":2.11,"y":0.5,"c":"purple"},{"r":"B","k":4,"x":3.28,"y":0.5,"c":"blue"},{"r":"B","k":4,"x":3.62,"y":0.5,"c":"magenta"},{"r":"B","k":4,"x":4.86,"y":0.5,"c":"orange"},{"r":"B","k":4,"x":3.09,"y":0.456,"c":"blue"},{"r":"B","k":4,"x":3.88,"y":0.453,"c":"purple"},{"r":"B","k":4,"x":2.19,"y":0.427,"c":"purple"},{"r":"B","k":4,"x":3.62,"y":0.43,"c":"cyan"},{"r":"B","k":4,"x":3.54,"y":0.401,"c":"blue"},{"r":"B","k":4,"x":3.94,"y":0.375,"c":"purple"},{"r":"B","k":4,"x":3.2,"y":0.335,"c":"purple"},{"r":"B","k":4,"x":1.68,"y":0.299,"c":"orangered"},{"r":"B","k":4,"x":1.77,"y":0.27,"c":"orangered"},{"r":"B","k":4,"x":3.46,"y":0.299,"c":"gold"},{"r":"B","k":4,"x":2.67,"y":0.222,"c":"gold"},{"r":"B","k":4,"x":3.46,"y":0.248,"c":"orange"},{"r":"B","k":4,"x":3.6,"y":0.248,"c":"red"},{"r":"B","k":4,"x":3.8,"y":0.248,"c":"red"},{"r":"B","k":4,"x":4.37,"y":0.248,"c":"red"},{"r":"B","k":4,"x":4.62,"y":0.248,"c":"orange"},{"r":"B","k":4,"x":4.67,"y":0.248,"c":"red"},{"r":"B","k":4,"x":4.81,"y":0.222,"c":"blue"},{"r":"B","k":4,"x":4.71,"y":0.2,"c":"purple"},{"r":"B","k":4,"x":4.81,"y":0.181,"c":"purple"},{"r":"B","k":4,"x":3.09,"y":0.2,"c":"blue"},{"r":"B","k":4,"x":3.28,"y":0.181,"c":"purple"},{"r":"B","k":4,"x":1.34,"y":0.166,"c":"purple"},{"r":"B","k":4,"x":3.8,"y":0.166,"c":"red"},{"r":"B","k":4,"x":3.88,"y":0.166,"c":"blue"},{"r":"B","k":4,"x":5.38,"y":0.146,"c":"red"},{"r":"B","k":4,"x":4.37,"y":0.146,"c":"red"},{"r":"B","k":4,"x":4.37,"y":0.133,"c":"red"},{"r":"B","k":4,"x":4.37,"y":0.12,"c":"red"},{"r":"B","k":4,"x":1.6,"y":0.124,"c":"purple"},{"r":"B","k":4,"x":2.33,"y":0.124,"c":"green"},{"r":"B","k":4,"x":2.92,"y":0.124,"c":"orange"},{"r":"B","k":4,"x":2.86,"y":0.109,"c":"orange"},{"r":"B","k":4,"x":3.2,"y":0.109,"c":"black"},{"r":"B","k":4,"x":3.54,"y":0.124,"c":"red"},{"r":"B","k":4,"x":3.94,"y":0.109,"c":"cyan"},{"r":"B","k":4,"x":4.79,"y":0.124,"c":"cyan"},{"r":"B","k":4,"x":1.99,"y":0.109,"c":"yellow"},{"r":"B","k":4,"x":2.02,"y":0.086,"c":"yellow"},{"r":"B","k":4,"x":1.93,"y":0.096,"c":"green"},{"r":"B","k":4,"x":2.19,"y":0.089,"c":"orange"},{"r":"B","k":4,"x":2.27,"y":0.109,"c":"purple"},{"r":"B","k":4,"x":2.41,"y":0.096,"c":"black"},{"r":"B","k":4,"x":3.09,"y":0.086,"c":"gold"},{"r":"B","k":4,"x":3.35,"y":0.082,"c":"teal"},{"r":"B","k":4,"x":3.63,"y":0.096,"c":"orangered"},{"r":"B","k":4,"x":3.71,"y":0.096,"c":"orange"},{"r":"B","k":4,"x":4.47,"y":0.096,"c":"orange"},
{"r":"B","k":4,"x":1.5,"y":0,"c":"darkgreen"},{"r":"B","k":4,"x":1.62,"y":0,"c":"darkgreen"},{"r":"B","k":4,"x":1.95,"y":0,"c":"green"},{"r":"B","k":4,"x":2.05,"y":0,"c":"green"},{"r":"B","k":4,"x":2.15,"y":0,"c":"green"},{"r":"B","k":4,"x":2.25,"y":0,"c":"black"},{"r":"B","k":4,"x":2.35,"y":0,"c":"green"},{"r":"B","k":4,"x":2.45,"y":0,"c":"green"},{"r":"B","k":4,"x":2.55,"y":0,"c":"darkgreen"},{"r":"B","k":4,"x":2.65,"y":0,"c":"green"},{"r":"B","k":4,"x":2.75,"y":0,"c":"teal"},{"r":"B","k":4,"x":2.85,"y":0,"c":"green"},{"r":"B","k":4,"x":2.95,"y":0,"c":"green"},{"r":"B","k":4,"x":3.05,"y":0,"c":"orange"},{"r":"B","k":4,"x":3.15,"y":0,"c":"green"},{"r":"B","k":4,"x":3.25,"y":0,"c":"red"},{"r":"B","k":4,"x":3.35,"y":0,"c":"yellow"},{"r":"B","k":4,"x":3.45,"y":0,"c":"purple"},{"r":"B","k":4,"x":3.55,"y":0,"c":"green"},{"r":"B","k":4,"x":3.65,"y":0,"c":"black"},{"r":"B","k":4,"x":3.75,"y":0,"c":"darkgreen"},{"r":"B","k":4,"x":3.85,"y":0,"c":"green"},{"r":"B","k":4,"x":3.95,"y":0,"c":"orange"},{"r":"B","k":4,"x":4.05,"y":0,"c":"red"},{"r":"B","k":4,"x":4.3,"y":0,"c":"red"},{"r":"B","k":4,"x":4.45,"y":0,"c":"crimson"},{"r":"B","k":4,"x":4.6,"y":0,"c":"magenta"},{"r":"B","k":4,"x":4.7,"y":0,"c":"cyan"},{"r":"B","k":4,"x":4.8,"y":0,"c":"crimson"},{"r":"B","k":4,"x":4.85,"y":0,"c":"green"},{"r":"B","k":4,"x":5.52,"y":0,"c":"crimson"}
]},
"spacing":20,
"vconcat":[
{"width":984,"height":24,"view":{"stroke":null},"data":{"name":"hdr"},"mark":{"type":"text","fontSize":13,"baseline":"middle","font":"DejaVu Sans"},
 "encoding":{"x":{"field":"k","type":"ordinal","axis":null,"scale":{"type":"band","paddingInner":0.2727,"paddingOuter":0}},"text":{"field":"label"}}},
{"title":{"text":"Item data split by a priori integrated/unintegrated classification","fontSize":15.5,"offset":10,"anchor":"middle","dx":32},"bounds":"flush","spacing":72,
 "hconcat":[
 {"width":192,"height":199,"layer":[
  {"data":{"name":"pts"},"transform":[{"filter":"datum.r=='A' && datum.k==1"}],"mark":{"type":"point","shape":"circle","filled":false,"size":24,"strokeWidth":1.3,"opacity":1},
   "encoding":{"x":{"field":"x","type":"quantitative","scale":{"domain":[0.75,7.25],"nice":false,"zero":false},"axis":{"values":[1,2,3,4,5,6,7],"format":"d","tickCount":10,"labelOverlap":false,"labelPadding":7,"title":null}},
   "y":{"field":"y","type":"quantitative","scale":{"domain":[-0.028,0.728],"nice":false,"zero":false},"axis":{"values":[0,0.1,0.2,0.3,0.4,0.5,0.6,0.7],"tickCount":10,"labelOverlap":false,"labelAngle":-90,"labelPadding":21,"titlePadding":3,"labelExpr":"round(datum.value*10)%2==0 && datum.value<0.65 ? format(datum.value,'.1f') : ''","title":"Proportion Plural Agreement"}},
   "color":{"field":"c","type":"nominal","scale":{"domain":["green","teal","darkgreen","black","red","crimson","orangered","orange","gold","yellow","magenta","purple","blue","cyan"]},"legend":null}}},
  {"data":{"name":"fit"},"transform":[{"filter":"datum.r=='A' && datum.k==1"}],"mark":{"type":"line","color":"#aaaaaa","strokeWidth":3.5},"encoding":{"x":{"field":"x","type":"quantitative"},"y":{"field":"y","type":"quantitative"}}},
  {"data":{"name":"lab"},"transform":[{"filter":"datum.r=='A' && datum.k==1"}],"mark":{"type":"text","align":"left","baseline":"top","fontStyle":"italic","fontSize":11,"dx":2,"dy":1},"encoding":{"x":{"datum":0.75,"type":"quantitative"},"y":{"datum":0.728,"type":"quantitative"},"text":{"field":"label"}}}]},
 {"width":192,"height":199,"layer":[
  {"data":{"name":"pts"},"transform":[{"filter":"datum.r=='A' && datum.k==2"}],"mark":{"type":"point","shape":"circle","filled":false,"size":24,"strokeWidth":1.3,"opacity":1},
   "encoding":{"x":{"field":"x","type":"quantitative","scale":{"domain":[0.75,7.25],"nice":false,"zero":false},"axis":{"values":[1,2,3,4,5,6,7],"format":"d","tickCount":10,"labelOverlap":false,"labelPadding":7,"title":null}},
   "y":{"field":"y","type":"quantitative","scale":{"domain":[-0.028,0.728],"nice":false,"zero":false},"axis":{"values":[0,0.1,0.2,0.3,0.4,0.5,0.6,0.7],"tickCount":10,"labelOverlap":false,"labelAngle":-90,"labelPadding":21,"labelExpr":"round(datum.value*10)%2==0 && datum.value<0.65 ? format(datum.value,'.1f') : ''","title":null}},
   "color":{"field":"c","type":"nominal","scale":{"domain":["green","teal","darkgreen","black","red","crimson","orangered","orange","gold","yellow","magenta","purple","blue","cyan"]},"legend":null}}},
  {"data":{"name":"fit"},"transform":[{"filter":"datum.r=='A' && datum.k==2"}],"mark":{"type":"line","color":"#aaaaaa","strokeWidth":3.5},"encoding":{"x":{"field":"x","type":"quantitative"},"y":{"field":"y","type":"quantitative"}}},
  {"data":{"name":"lab"},"transform":[{"filter":"datum.r=='A' && datum.k==2"}],"mark":{"type":"text","align":"left","baseline":"top","fontStyle":"italic","fontSize":11,"dx":2,"dy":1},"encoding":{"x":{"datum":0.75,"type":"quantitative"},"y":{"datum":0.728,"type":"quantitative"},"text":{"field":"label"}}}]},
 {"width":192,"height":199,"layer":[
  {"data":{"name":"pts"},"transform":[{"filter":"datum.r=='A' && datum.k==3"}],"mark":{"type":"point","shape":"circle","filled":false,"size":24,"strokeWidth":1.3,"opacity":1},
   "encoding":{"x":{"field":"x","type":"quantitative","scale":{"domain":[0.75,7.25],"nice":false,"zero":false},"axis":{"values":[1,2,3,4,5,6,7],"format":"d","tickCount":10,"labelOverlap":false,"labelPadding":7,"title":null}},
   "y":{"field":"y","type":"quantitative","scale":{"domain":[-0.028,0.728],"nice":false,"zero":false},"axis":{"values":[0,0.1,0.2,0.3,0.4,0.5,0.6,0.7],"tickCount":10,"labelOverlap":false,"labelAngle":-90,"labelPadding":21,"labelExpr":"round(datum.value*10)%2==0 && datum.value<0.65 ? format(datum.value,'.1f') : ''","title":null}},
   "color":{"field":"c","type":"nominal","scale":{"domain":["green","teal","darkgreen","black","red","crimson","orangered","orange","gold","yellow","magenta","purple","blue","cyan"]},"legend":null}}},
  {"data":{"name":"fit"},"transform":[{"filter":"datum.r=='A' && datum.k==3"}],"mark":{"type":"line","color":"#aaaaaa","strokeWidth":3.5},"encoding":{"x":{"field":"x","type":"quantitative"},"y":{"field":"y","type":"quantitative"}}},
  {"data":{"name":"lab"},"transform":[{"filter":"datum.r=='A' && datum.k==3"}],"mark":{"type":"text","align":"left","baseline":"top","fontStyle":"italic","fontSize":11,"dx":2,"dy":1},"encoding":{"x":{"datum":0.75,"type":"quantitative"},"y":{"datum":0.728,"type":"quantitative"},"text":{"field":"label"}}}]},
 {"width":192,"height":199,"layer":[
  {"data":{"name":"pts"},"transform":[{"filter":"datum.r=='A' && datum.k==4"}],"mark":{"type":"point","shape":"circle","filled":false,"size":24,"strokeWidth":1.3,"opacity":1},
   "encoding":{"x":{"field":"x","type":"quantitative","scale":{"domain":[0.75,7.25],"nice":false,"zero":false},"axis":{"values":[1,2,3,4,5,6,7],"format":"d","tickCount":10,"labelOverlap":false,"labelPadding":7,"title":null}},
   "y":{"field":"y","type":"quantitative","scale":{"domain":[-0.028,0.728],"nice":false,"zero":false},"axis":{"values":[0,0.1,0.2,0.3,0.4,0.5,0.6,0.7],"tickCount":10,"labelOverlap":false,"labelAngle":-90,"labelPadding":21,"labelExpr":"round(datum.value*10)%2==0 && datum.value<0.65 ? format(datum.value,'.1f') : ''","title":null}},
   "color":{"field":"c","type":"nominal","scale":{"domain":["green","teal","darkgreen","black","red","crimson","orangered","orange","gold","yellow","magenta","purple","blue","cyan"]},"legend":null}}},
  {"data":{"name":"fit"},"transform":[{"filter":"datum.r=='A' && datum.k==4"}],"mark":{"type":"line","color":"#aaaaaa","strokeWidth":3.5},"encoding":{"x":{"field":"x","type":"quantitative"},"y":{"field":"y","type":"quantitative"}}},
  {"data":{"name":"lab"},"transform":[{"filter":"datum.r=='A' && datum.k==4"}],"mark":{"type":"text","align":"left","baseline":"top","fontStyle":"italic","fontSize":11,"dx":2,"dy":1},"encoding":{"x":{"datum":0.75,"type":"quantitative"},"y":{"datum":0.728,"type":"quantitative"},"text":{"field":"label"}}}]}
 ]},
{"title":{"text":"Item data split by rating-based integrated/unintegrated classification","fontSize":15.5,"offset":10,"anchor":"middle","dx":20},"bounds":"flush","spacing":72,
 "hconcat":[
 {"width":192,"height":199,"layer":[
  {"data":{"name":"pts"},"transform":[{"filter":"datum.r=='B' && datum.k==1"}],"mark":{"type":"point","shape":"circle","filled":false,"size":24,"strokeWidth":1.3,"opacity":1},
   "encoding":{"x":{"field":"x","type":"quantitative","scale":{"domain":[0.75,7.25],"nice":false,"zero":false},"axis":{"values":[1,2,3,4,5,6,7],"format":"d","tickCount":10,"labelOverlap":false,"labelPadding":7,"titlePadding":8,"title":"Integration Rating"}},
   "y":{"field":"y","type":"quantitative","scale":{"domain":[-0.028,0.728],"nice":false,"zero":false},"axis":{"values":[0,0.1,0.2,0.3,0.4,0.5,0.6,0.7],"tickCount":10,"labelOverlap":false,"labelAngle":-90,"labelPadding":21,"titlePadding":3,"labelExpr":"round(datum.value*10)%2==0 && datum.value<0.65 ? format(datum.value,'.1f') : ''","title":"Proportion plural agreement"}},
   "color":{"field":"c","type":"nominal","scale":{"domain":["green","teal","darkgreen","black","red","crimson","orangered","orange","gold","yellow","magenta","purple","blue","cyan"]},"legend":null}}},
  {"data":{"name":"fit"},"transform":[{"filter":"datum.r=='B' && datum.k==1"}],"mark":{"type":"line","color":"#aaaaaa","strokeWidth":3.5},"encoding":{"x":{"field":"x","type":"quantitative"},"y":{"field":"y","type":"quantitative"}}},
  {"data":{"name":"lab"},"transform":[{"filter":"datum.r=='B' && datum.k==1"}],"mark":{"type":"text","align":"left","baseline":"top","fontStyle":"italic","fontSize":11,"dx":2,"dy":1},"encoding":{"x":{"datum":0.75,"type":"quantitative"},"y":{"datum":0.728,"type":"quantitative"},"text":{"field":"label"}}}]},
 {"width":192,"height":199,"layer":[
  {"data":{"name":"pts"},"transform":[{"filter":"datum.r=='B' && datum.k==2"}],"mark":{"type":"point","shape":"circle","filled":false,"size":24,"strokeWidth":1.3,"opacity":1},
   "encoding":{"x":{"field":"x","type":"quantitative","scale":{"domain":[0.75,7.25],"nice":false,"zero":false},"axis":{"values":[1,2,3,4,5,6,7],"format":"d","tickCount":10,"labelOverlap":false,"labelPadding":7,"titlePadding":8,"title":"Integration Rating"}},
   "y":{"field":"y","type":"quantitative","scale":{"domain":[-0.028,0.728],"nice":false,"zero":false},"axis":{"values":[0,0.1,0.2,0.3,0.4,0.5,0.6,0.7],"tickCount":10,"labelOverlap":false,"labelAngle":-90,"labelPadding":21,"labelExpr":"round(datum.value*10)%2==0 && datum.value<0.65 ? format(datum.value,'.1f') : ''","title":null}},
   "color":{"field":"c","type":"nominal","scale":{"domain":["green","teal","darkgreen","black","red","crimson","orangered","orange","gold","yellow","magenta","purple","blue","cyan"]},"legend":null}}},
  {"data":{"name":"fit"},"transform":[{"filter":"datum.r=='B' && datum.k==2"}],"mark":{"type":"line","color":"#aaaaaa","strokeWidth":3.5},"encoding":{"x":{"field":"x","type":"quantitative"},"y":{"field":"y","type":"quantitative"}}},
  {"data":{"name":"lab"},"transform":[{"filter":"datum.r=='B' && datum.k==2"}],"mark":{"type":"text","align":"left","baseline":"top","fontStyle":"italic","fontSize":11,"dx":2,"dy":1},"encoding":{"x":{"datum":0.75,"type":"quantitative"},"y":{"datum":0.728,"type":"quantitative"},"text":{"field":"label"}}}]},
 {"width":192,"height":199,"layer":[
  {"data":{"name":"pts"},"transform":[{"filter":"datum.r=='B' && datum.k==3"}],"mark":{"type":"point","shape":"circle","filled":false,"size":24,"strokeWidth":1.3,"opacity":1},
   "encoding":{"x":{"field":"x","type":"quantitative","scale":{"domain":[0.75,7.25],"nice":false,"zero":false},"axis":{"values":[1,2,3,4,5,6,7],"format":"d","tickCount":10,"labelOverlap":false,"labelPadding":7,"titlePadding":8,"title":"Integration Rating"}},
   "y":{"field":"y","type":"quantitative","scale":{"domain":[-0.028,0.728],"nice":false,"zero":false},"axis":{"values":[0,0.1,0.2,0.3,0.4,0.5,0.6,0.7],"tickCount":10,"labelOverlap":false,"labelAngle":-90,"labelPadding":21,"labelExpr":"round(datum.value*10)%2==0 && datum.value<0.65 ? format(datum.value,'.1f') : ''","title":null}},
   "color":{"field":"c","type":"nominal","scale":{"domain":["green","teal","darkgreen","black","red","crimson","orangered","orange","gold","yellow","magenta","purple","blue","cyan"]},"legend":null}}},
  {"data":{"name":"fit"},"transform":[{"filter":"datum.r=='B' && datum.k==3"}],"mark":{"type":"line","color":"#aaaaaa","strokeWidth":3.5},"encoding":{"x":{"field":"x","type":"quantitative"},"y":{"field":"y","type":"quantitative"}}},
  {"data":{"name":"lab"},"transform":[{"filter":"datum.r=='B' && datum.k==3"}],"mark":{"type":"text","align":"left","baseline":"top","fontStyle":"italic","fontSize":11,"dx":2,"dy":1},"encoding":{"x":{"datum":0.75,"type":"quantitative"},"y":{"datum":0.728,"type":"quantitative"},"text":{"field":"label"}}}]},
 {"width":192,"height":199,"layer":[
  {"data":{"name":"pts"},"transform":[{"filter":"datum.r=='B' && datum.k==4"}],"mark":{"type":"point","shape":"circle","filled":false,"size":24,"strokeWidth":1.3,"opacity":1},
   "encoding":{"x":{"field":"x","type":"quantitative","scale":{"domain":[0.75,7.25],"nice":false,"zero":false},"axis":{"values":[1,2,3,4,5,6,7],"format":"d","tickCount":10,"labelOverlap":false,"labelPadding":7,"titlePadding":8,"title":"Integration Rating"}},
   "y":{"field":"y","type":"quantitative","scale":{"domain":[-0.028,0.728],"nice":false,"zero":false},"axis":{"values":[0,0.1,0.2,0.3,0.4,0.5,0.6,0.7],"tickCount":10,"labelOverlap":false,"labelAngle":-90,"labelPadding":21,"labelExpr":"round(datum.value*10)%2==0 && datum.value<0.65 ? format(datum.value,'.1f') : ''","title":null}},
   "color":{"field":"c","type":"nominal","scale":{"domain":["green","teal","darkgreen","black","red","crimson","orangered","orange","gold","yellow","magenta","purple","blue","cyan"]},"legend":null}}},
  {"data":{"name":"fit"},"transform":[{"filter":"datum.r=='B' && datum.k==4"}],"mark":{"type":"line","color":"#aaaaaa","strokeWidth":3.5},"encoding":{"x":{"field":"x","type":"quantitative"},"y":{"field":"y","type":"quantitative"}}},
  {"data":{"name":"lab"},"transform":[{"filter":"datum.r=='B' && datum.k==4"}],"mark":{"type":"text","align":"left","baseline":"top","fontStyle":"italic","fontSize":11,"dx":2,"dy":1},"encoding":{"x":{"datum":0.75,"type":"quantitative"},"y":{"datum":0.728,"type":"quantitative"},"text":{"field":"label"}}}]}
 ]}
]
}
